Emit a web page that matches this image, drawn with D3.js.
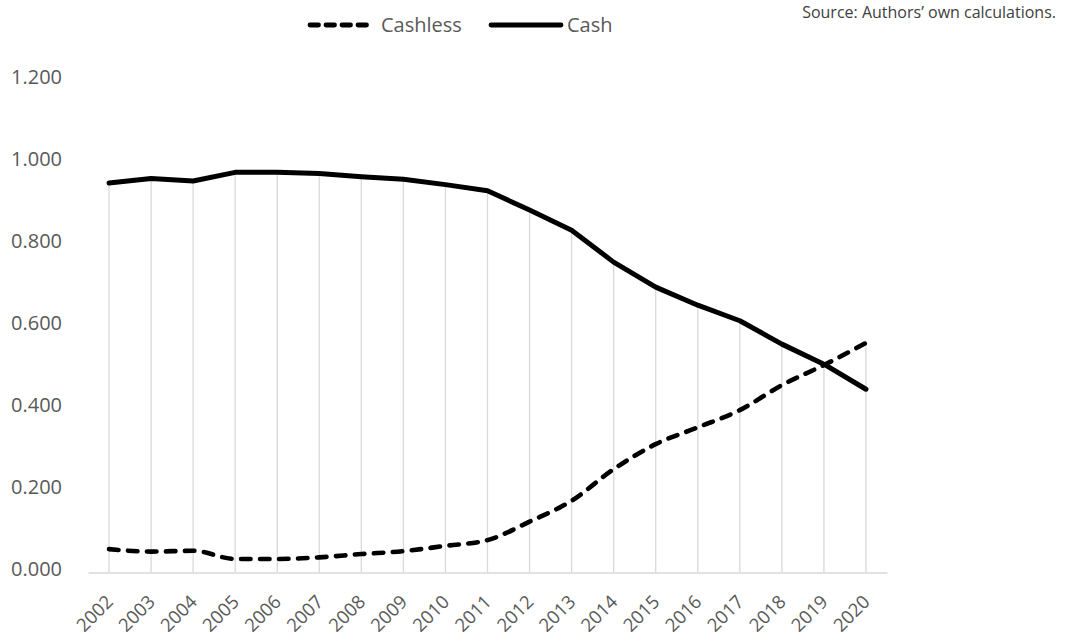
<!DOCTYPE html>
<html>
<head>
<meta charset="utf-8">
<script src="https://cdn.jsdelivr.net/npm/d3@7"></script>
<style>
  html, body { margin: 0; padding: 0; background: #fff; }
  svg { display: block; font-family: "Open Sans", "Noto Sans", sans-serif; }
</style>
</head>
<body>
<svg id="chart" width="1067" height="642"></svg>
<script>
// Share of payments by instrument, 2002–2020
const years = ["2002","2003","2004","2005","2006","2007","2008","2009","2010","2011",
               "2012","2013","2014","2015","2016","2017","2018","2019","2020"];
const cashless = [0.057, 0.051, 0.053, 0.033, 0.033, 0.037, 0.045, 0.052, 0.065, 0.079,
                  0.124, 0.175, 0.252, 0.313, 0.354, 0.396, 0.457, 0.506, 0.560];
const cash = [0.950, 0.961, 0.955, 0.976, 0.976, 0.973, 0.965, 0.959, 0.946, 0.931,
              0.884, 0.835, 0.757, 0.696, 0.652, 0.614, 0.557, 0.508, 0.447];
const yTicks = [0, 0.2, 0.4, 0.6, 0.8, 1.0, 1.2];
const seriesNames = ["Cashless", "Cash"];
const sourceNote = "Source: Authors’ own calculations.";

const svg = d3.select("#chart");
const gridColor = "#d9d9d9";
const textColor = "#595959";

const x = d3.scalePoint().domain(years).range([88, 887]).padding(0.5);
const y = d3.scaleLinear().domain([0, 1.2]).range([572.5, 80.5]);

// drop lines from the higher series down to the category axis
svg.append("g")
  .selectAll("line")
  .data(years)
  .join("line")
  .attr("x1", d => x(d)).attr("x2", d => x(d))
  .attr("y1", (d, i) => y(Math.max(cash[i], cashless[i])))
  .attr("y2", y(0))
  .attr("stroke", gridColor)
  .attr("stroke-width", 1.3);

// category axis
const xAxis = svg.append("g")
  .attr("transform", `translate(0,${y(0)})`)
  .call(d3.axisBottom(x).tickSize(0).tickSizeOuter(0));
xAxis.select(".domain").attr("stroke", gridColor).attr("stroke-width", 1.6);
xAxis.selectAll(".tick text")
  .attr("x", 0).attr("y", 0).attr("dy", "0.35em")
  .attr("text-anchor", "end")
  .attr("transform", "translate(0,26) rotate(-45)")
  .attr("fill", textColor)
  .style("font-size", "18.5px")
  .style("font-family", "'Open Sans', sans-serif");

// value axis labels
const yAxis = svg.append("g")
  .attr("transform", "translate(62,0)")
  .call(d3.axisLeft(y).tickValues(yTicks).tickFormat(d3.format(".3f")).tickSize(0).tickPadding(0));
yAxis.select(".domain").remove();
yAxis.selectAll(".tick text")
  .attr("dy", "0.15em")
  .attr("fill", textColor)
  .style("font-size", "20px")
  .style("font-family", "'Open Sans', sans-serif");

// series lines
const cashlessLine = d3.line()
  .x((d, i) => x(years[i]))
  .y(d => y(d))
  .curve(d3.curveMonotoneX);
const cashLine = d3.line()
  .x((d, i) => x(years[i]))
  .y(d => y(d));

svg.append("path")
  .datum(cash)
  .attr("d", cashLine)
  .attr("fill", "none")
  .attr("stroke", "#000")
  .attr("stroke-width", 5)
  .attr("stroke-linejoin", "round")
  .attr("stroke-linecap", "round");

svg.append("path")
  .datum(cashless)
  .attr("d", cashlessLine)
  .attr("fill", "none")
  .attr("stroke", "#000")
  .attr("stroke-width", 4.6)
  .attr("stroke-dasharray", "9.5 9.5")
  .attr("stroke-linejoin", "round")
  .attr("stroke-linecap", "round");

// legend
const legendItems = [
  { name: seriesNames[0], x1: 310, x2: 372, tx: 381, dash: "8.5 7.5" },
  { name: seriesNames[1], x1: 491, x2: 561, tx: 567, dash: null }
];
const legend = svg.append("g");
legend.selectAll("line")
  .data(legendItems)
  .join("line")
  .attr("x1", d => d.x1).attr("x2", d => d.x2)
  .attr("y1", 25).attr("y2", 25)
  .attr("stroke", "#000")
  .attr("stroke-width", 4.8)
  .attr("stroke-linecap", "round")
  .attr("stroke-dasharray", d => d.dash);
legend.selectAll("text")
  .data(legendItems)
  .join("text")
  .attr("x", d => d.tx)
  .attr("y", 25)
  .attr("dy", "0.35em")
  .attr("fill", textColor)
  .style("font-size", "20px")
  .text(d => d.name);

// source note
svg.append("text")
  .attr("x", 1056)
  .attr("y", 12)
  .attr("dy", "0.35em")
  .attr("text-anchor", "end")
  .attr("fill", "#404040")
  .style("font-size", "16px")
  .text(sourceNote);
</script>
</body>
</html>
